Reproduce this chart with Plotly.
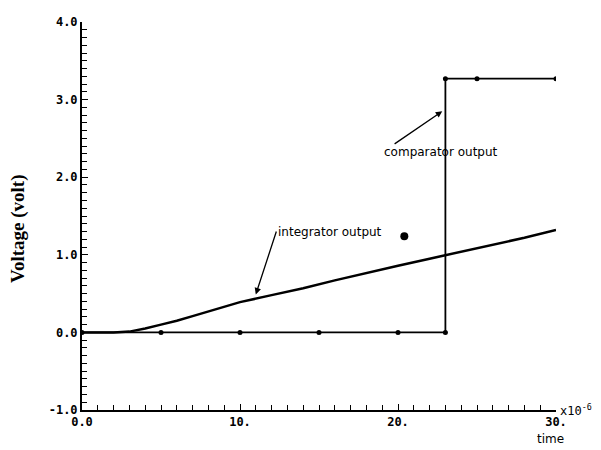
import plotly.graph_objects as go

# time in units of 1e-6 s
t_int = [0, 2, 3, 4, 5, 6, 7, 8, 9, 10, 12, 14, 16, 18, 20, 22, 24, 26, 28, 30]
v_int = [0.0, 0.0, 0.01, 0.05, 0.1, 0.15, 0.21, 0.27, 0.33, 0.39, 0.48, 0.57,
         0.67, 0.77, 0.86, 0.95, 1.04, 1.13, 1.22, 1.32]

t_cmp = [0, 5, 10, 15, 20, 23, 23, 25, 30]
v_cmp = [0.0, 0.0, 0.0, 0.0, 0.0, 0.0, 3.27, 3.27, 3.27]

dot_t = [20.4]
dot_v = [1.24]

x_tickvals = [0, 10, 20, 30]
x_ticktext = ["0.0", "10.", "20.", "30."]
y_tickvals = [-1, 0, 1, 2, 3, 4]
y_ticktext = ["-1.0", "0.0", "1.0", "2.0", "3.0", "4.0"]

tick_font = dict(family="DejaVu Sans Mono", size=12, color="black", weight="bold")

fig = go.Figure()
fig.add_trace(go.Scatter(x=t_int, y=v_int, mode="lines",
                         line=dict(color="black", width=2.5), hoverinfo="skip"))
fig.add_trace(go.Scatter(x=t_cmp, y=v_cmp, mode="lines+markers",
                         line=dict(color="black", width=1.8),
                         marker=dict(color="black", size=5), hoverinfo="skip"))
fig.add_trace(go.Scatter(x=dot_t, y=dot_v, mode="markers",
                         marker=dict(color="black", size=8), hoverinfo="skip"))

fig.update_layout(
    width=601, height=450,
    margin=dict(l=82, r=45, t=22, b=40),
    paper_bgcolor="white", plot_bgcolor="white",
    showlegend=False,
    xaxis=dict(range=[0, 30], showgrid=False, zeroline=False,
               showline=True, linecolor="black", linewidth=2,
               tickmode="array", tickvals=x_tickvals, ticktext=x_ticktext,
               ticks="inside", ticklen=6, tickwidth=1.2, tickcolor="black",
               minor=dict(dtick=1, ticks="inside", ticklen=5, tickwidth=1.2, tickcolor="black"),
               tickfont=tick_font),
    yaxis=dict(range=[-1, 4], showgrid=False, zeroline=False,
               showline=True, linecolor="black", linewidth=2,
               tickmode="array", tickvals=y_tickvals, ticktext=y_ticktext,
               ticks="inside", ticklen=6, tickwidth=1.2, tickcolor="black",
               minor=dict(dtick=0.1, ticks="inside", ticklen=5, tickwidth=1.2, tickcolor="black"),
               tickfont=tick_font),
)

fig.add_annotation(x=0, y=0.5, xref="paper", yref="paper", text="Voltage (volt)",
                   textangle=-90, showarrow=False, xanchor="center", yanchor="middle",
                   xshift=-64, yshift=-13,
                   font=dict(family="Liberation Serif", size=19, color="black", weight="bold"))

ann_font = dict(family="DejaVu Sans", size=12, color="black")
fig.add_annotation(x=11.0, y=0.49, ax=12.3, ay=1.3, xref="x", yref="y", axref="x", ayref="y",
                   text="integrator output", xanchor="left", yanchor="middle",
                   showarrow=True, arrowhead=2, arrowsize=1, arrowwidth=1.3, arrowcolor="black",
                   font=ann_font)
fig.add_annotation(x=22.8, y=2.85, ax=19.0, ay=2.32, xref="x", yref="y", axref="x", ayref="y",
                   text="comparator output", xanchor="left", yanchor="middle",
                   showarrow=True, arrowhead=2, arrowsize=1, arrowwidth=1.3, arrowcolor="black",
                   font=ann_font)
fig.add_annotation(x=1.0, y=0, xref="paper", yref="paper", text="x10<sup>-6</sup>",
                   showarrow=False, xanchor="left", yanchor="middle", xshift=2,
                   font=dict(family="DejaVu Sans Mono", size=12, color="black"))
fig.add_annotation(x=1.0, y=0, xref="paper", yref="paper", text="time",
                   showarrow=False, xanchor="center", yanchor="top", yshift=-20, xshift=-6,
                   font=dict(family="DejaVu Sans", size=12, color="black"))

fig.write_html("out.html")
